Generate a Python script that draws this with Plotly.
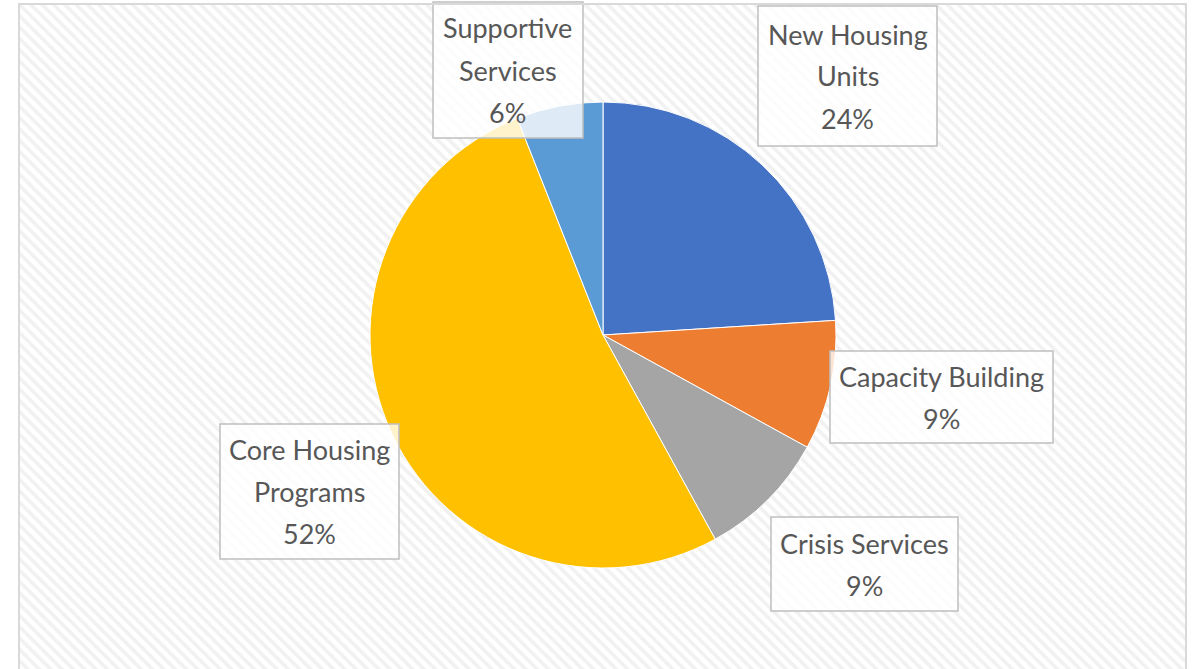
import plotly.graph_objects as go

# ---- data ----
categories = ["New Housing Units", "Capacity Building", "Crisis Services",
              "Core Housing Programs", "Supportive Services"]
label_lines = [["New Housing", "Units"], ["Capacity Building"], ["Crisis Services"],
               ["Core Housing", "Programs"], ["Supportive", "Services"]]
shares = [24, 9, 9, 52, 6]
colors = ["#4472C4", "#ED7D31", "#A5A5A5", "#FFC000", "#5B9BD5"]

W, H = 1194, 669


def px(x):
    return x / W


def py(y):
    return 1 - y / H


# pie placement (pixels)
cx, cy, D = 603, 335, 466

# label box geometry in pixels (x0, y0, x1, y1), same order as categories
boxes = [(758, 6, 937, 146), (830, 351, 1053, 443), (771, 517, 958, 611),
         (220, 424, 399, 559), (433, 2, 583, 138)]
LINE = 42

fig = go.Figure()

# hatched chart-area background
fig.add_trace(go.Scatter(
    x=[0, 1, 1, 0, 0], y=[0, 0, 1, 1, 0], fill="toself", mode="none",
    fillcolor="#e2e2e2",
    fillpattern=dict(shape="\\", fgcolor="#e3e3e3", bgcolor="#ffffff",
                     size=8, solidity=0.45),
    hoverinfo="skip", showlegend=False))

fig.add_trace(go.Pie(
    labels=categories, values=shares, sort=False, direction="clockwise",
    rotation=0, textinfo="none", hoverinfo="label+percent",
    marker=dict(colors=colors, line=dict(color="white", width=1)),
    domain=dict(x=[px(cx - D / 2), px(cx + D / 2)],
                y=[py(cy + D / 2), py(cy - D / 2)]),
    showlegend=False))

total = sum(shares)
annotations = []
shapes = []
font = dict(family="Lato, Open Sans, sans-serif", size=27, color="#575757")
for lines, v, (x0, y0, x1, y1) in zip(label_lines, shares, boxes):
    shapes.append(dict(type="rect", xref="paper", yref="paper",
                       x0=px(x0), x1=px(x1), y0=py(y1), y1=py(y0),
                       fillcolor="rgba(255,255,255,0.8)",
                       line=dict(color="#bfbfbf", width=1.5), layer="above"))
    all_lines = lines + [f"{v / total * 100:.0f}%"]
    n = len(all_lines)
    ymid = (y0 + y1) / 2
    for i, t in enumerate(all_lines):
        annotations.append(dict(
            x=px((x0 + x1) / 2), y=py(ymid + (i - (n - 1) / 2) * LINE),
            xref="paper", yref="paper", xanchor="center", yanchor="middle",
            showarrow=False, text=t, font=font))

shapes.append(dict(type="rect", xref="paper", yref="paper",
                   x0=px(19), x1=px(1186), y0=-0.01, y1=py(4),
                   line=dict(color="#d9d9d9", width=2), layer="above"))

fig.update_layout(
    width=W, height=H, margin=dict(l=0, r=0, t=0, b=0),
    paper_bgcolor="white", plot_bgcolor="white",
    xaxis=dict(domain=[px(19), px(1186)], range=[0, 1], visible=False, fixedrange=True),
    yaxis=dict(domain=[0, py(4)], range=[0, 1], visible=False, fixedrange=True),
    annotations=annotations,
    shapes=shapes,
)

fig.write_html("out.html", config={"displayModeBar": False},
               post_script="document.body.style.margin='0';document.body.style.overflow='hidden';")
